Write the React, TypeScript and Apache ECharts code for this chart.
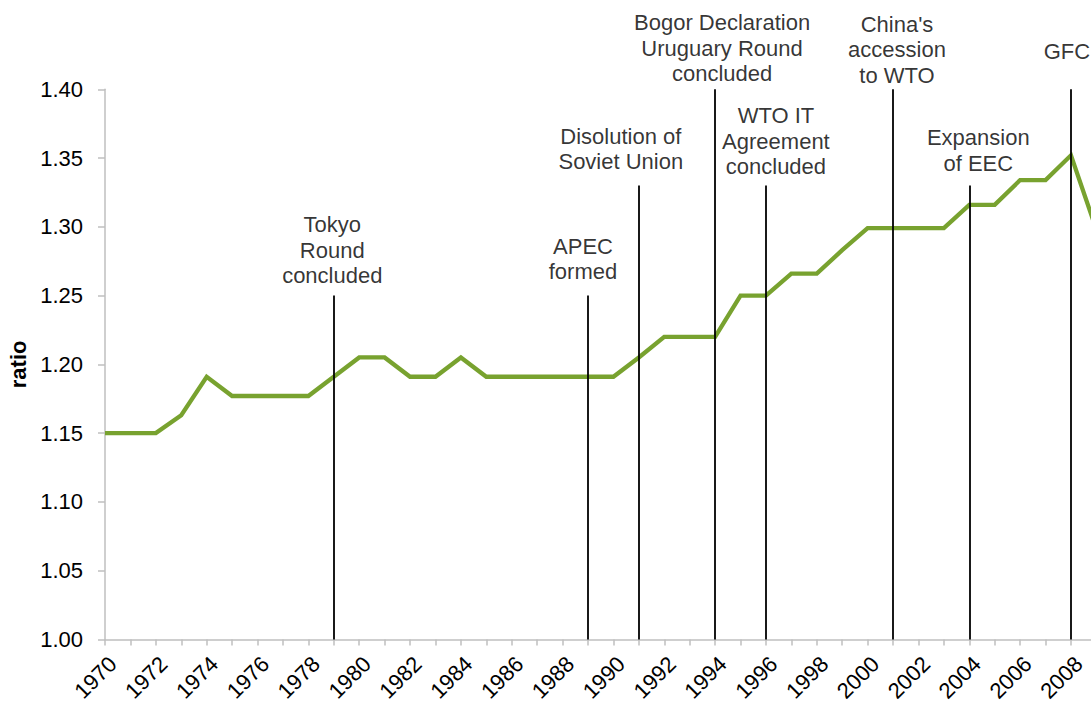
import React, { useEffect, useRef } from "react";
import * as echarts from "echarts";

const years = [
  "1970", "1971", "1972", "1973", "1974", "1975", "1976", "1977", "1978", "1979",
  "1980", "1981", "1982", "1983", "1984", "1985", "1986", "1987", "1988", "1989",
  "1990", "1991", "1992", "1993", "1994", "1995", "1996", "1997", "1998", "1999",
  "2000", "2001", "2002", "2003", "2004", "2005", "2006", "2007", "2008", "2009",
];

const ratio = [
  1.150, 1.150, 1.150, 1.163, 1.191, 1.177, 1.177, 1.177, 1.177, 1.191,
  1.205, 1.205, 1.191, 1.191, 1.205, 1.191, 1.191, 1.191, 1.191, 1.191,
  1.191, 1.205, 1.220, 1.220, 1.220, 1.250, 1.250, 1.266, 1.266, 1.283,
  1.299, 1.299, 1.299, 1.299, 1.316, 1.316, 1.334, 1.334, 1.352, 1.298,
];

const eventYears = ["1979", "1989", "1991", "1994", "1996", "2001", "2004", "2008"];
const eventTops = [1.25, 1.25, 1.33, 1.40, 1.33, 1.40, 1.33, 1.40];
const eventLabels = [
  "Tokyo\nRound\nconcluded",
  "APEC\nformed",
  "Disolution of\nSoviet Union",
  "Bogor Declaration\nUruguary Round\nconcluded",
  "WTO IT\nAgreement\nconcluded",
  "China's\naccession\nto WTO",
  "Expansion\nof EEC",
  "GFC",
];

const yMin = 1.0;
const yMax = 1.4;
const yStep = 0.05;

export default function App() {
  const ref = useRef<HTMLDivElement>(null);

  useEffect(() => {
    if (!ref.current) return;
    const chart = echarts.init(ref.current, undefined, { renderer: "svg" });
    const font = "'Liberation Sans', Arial, sans-serif";
    // label offsets (layout only): [dx, dy]
    const labelOffsets: [number, number][] = [
      [-1.5, -7],
      [-5, -11],
      [-18, -11],
      [7, -3],
      [10, -6],
      [4, -1.5],
      [9, -9.5],
      [-4, -25],
    ];

    chart.setOption({
      animation: false,
      grid: {
        left: 105,
        top: 89.3,
        bottom: 66.6,
        right: -5.4,
        containLabel: false,
        outerBoundsMode: "none",
      },
      xAxis: {
        type: "category",
        data: years,
        boundaryGap: false,
        axisLine: { show: true, lineStyle: { color: "#bfbfbf", width: 1.5 } },
        axisTick: {
          show: true,
          interval: 0,
          length: 6,
          lineStyle: { color: "#bfbfbf", width: 1.5 },
        },
        axisLabel: {
          interval: 1,
          rotate: 45,
          margin: 13,
          fontSize: 22,
          color: "#000",
          fontFamily: font,
          verticalAlign: "top",
          hideOverlap: false,
        },
        splitLine: { show: false },
      },
      yAxis: {
        type: "value",
        min: yMin,
        max: yMax,
        interval: yStep,
        name: "ratio",
        nameLocation: "middle",
        nameGap: 76,
        nameRotate: 90,
        nameTextStyle: { fontSize: 22, fontWeight: "bold", color: "#000", fontFamily: font },
        axisLine: { show: true, lineStyle: { color: "#bfbfbf", width: 1.5 } },
        axisTick: { show: true, length: 7, lineStyle: { color: "#bfbfbf", width: 1.5 } },
        axisLabel: {
          margin: 22,
          fontSize: 22,
          color: "#000",
          fontFamily: font,
          formatter: (v: number) => v.toFixed(2),
        },
        splitLine: { show: false },
      },
      series: [
        {
          type: "line",
          data: ratio,
          symbol: "none",
          lineStyle: { color: "#78A22F", width: 4.3, join: "miter" },
          z: 2,
          markLine: {
            silent: true,
            symbol: ["none", "none"],
            label: { show: false },
            lineStyle: { color: "#000", width: 1.8, type: "solid" },
            z: 3,
            data: eventYears.map((yr, i) => [
              { coord: [yr, yMin] },
              { coord: [yr, eventTops[i]] },
            ]),
          },
        },
        {
          type: "scatter",
          symbolSize: 0,
          silent: true,
          z: 4,
          data: eventYears.map((yr, i) => ({
            value: [yr, eventTops[i]],
            label: {
              show: true,
              position: "top",
              distance: 0,
              offset: labelOffsets[i],
              formatter: eventLabels[i],
              fontSize: 22,
              lineHeight: 25.5,
              color: "#000",
              fontFamily: font,
              align: "center",
            },
          })),
        },
      ],
    });

    return () => chart.dispose();
  }, []);

  return (
    <div
      ref={ref}
      style={{ position: "fixed", left: 0, top: 0, width: 1091, height: 706, background: "#fff" }}
    />
  );
}
